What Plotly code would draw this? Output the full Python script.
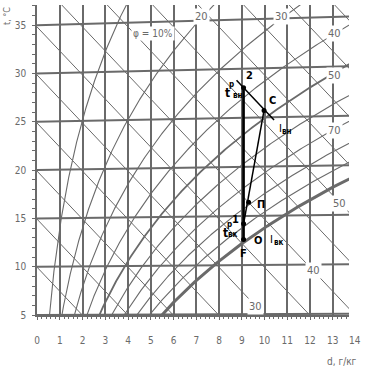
import numpy as np
import plotly.graph_objects as go

# ---------------- data ----------------
d_tick_vals = list(range(0, 14))          # moisture content ticks, g/kg
t_tick_vals = [5, 10, 15, 20, 25, 30, 35]  # temperature ticks, °C
isotherm_t = [5, 10, 15, 20, 25, 30, 35]
enthalpy_i = [5, 10, 15, 20, 25, 30, 35, 40, 45, 50, 55, 60, 65, 70, 75]
rh_phi = [10, 20, 30, 40, 50, 60, 70, 80, 90]
rh_labels = ["20", "30", "40", "50", "70"]
enth_labels = ["50", "40", "30"]

proc_names = ["2", "C", "П", "1", "F"]
proc_d = [9.08, 9.98, 9.30, 9.08, 9.08]
proc_t = [28.05, 25.7, 16.4, 14.2, 12.6]

# ---------------- layout constants ----------------
FIG_W, FIG_H = 367, 375
ML, MR, MT, MB = 37, 18, 5, 60
PW, PH = FIG_W - ML - MR, FIG_H - MT - MB
PX_D = 22.75      # px per g/kg
PX_T = 9.66       # px per °C
D_MAX = PW / PX_D
Y_MIN = 5
Y_MAX = Y_MIN + PH / PX_T
P_BAR = 99.3
GRAY = "#6a6a6a"
FONT = "Liberation Sans Narrow, DejaVu Sans Condensed, Arial, sans-serif"


def p_sat(t):
    return 0.61094 * np.exp(17.625 * t / (t + 243.04))


def d_of(t, phi):
    p = phi * p_sat(t)
    return 622.0 * p / (P_BAR - p)


def y_of(d, t):
    # oblique i-d chart ordinate: (i - 2.501 d) / 1.005
    return t + 0.00186 * t * d / 1.005


fig = go.Figure()

# isenthalps
xs, ys = [], []
for i in enthalpy_i:
    for d in (0, D_MAX + 0.5):
        xs.append(d)
        ys.append((i - 2.501 * d) / 1.005)
    xs.append(None); ys.append(None)
fig.add_trace(go.Scatter(x=xs, y=ys, mode="lines", line=dict(color=GRAY, width=1), hoverinfo="skip"))

# relative humidity curves
tt = np.linspace(-5, 48, 400)
for phi in rh_phi:
    dd = d_of(tt, phi / 100)
    m = dd < D_MAX + 1
    fig.add_trace(go.Scatter(x=dd[m], y=y_of(dd[m], tt[m]), mode="lines",
                             line=dict(color=GRAY, width=1.8 if phi == 50 else 1.1), hoverinfo="skip"))

# isotherms
xs, ys = [], []
for t in isotherm_t:
    for d in (0, D_MAX):
        xs.append(d); ys.append(y_of(d, t))
    xs.append(None); ys.append(None)
fig.add_trace(go.Scatter(x=xs, y=ys, mode="lines", line=dict(color=GRAY, width=2), hoverinfo="skip"))

# saturation curve
ts = np.linspace(-5, 30, 300)
ds = d_of(ts, 1.0)
fig.add_trace(go.Scatter(x=ds, y=y_of(ds, ts), mode="lines", line=dict(color=GRAY, width=3), hoverinfo="skip"))

# process
P = {n: (d, t) for n, d, t in zip(proc_names, proc_d, proc_t)}
PY = {n: y_of(d, t) for n, (d, t) in P.items()}
# 2 -> F
fig.add_trace(go.Scatter(x=[P["2"][0], P["F"][0]], y=[PY["2"], PY["F"]], mode="lines",
                         line=dict(color="black", width=2.6), hoverinfo="skip"))
# C -> 1
fig.add_trace(go.Scatter(x=[P["C"][0], P["1"][0]], y=[PY["C"], PY["1"]], mode="lines",
                         line=dict(color="black", width=1.5), hoverinfo="skip"))
# isenthalp through 2 and C
i2 = 1.005 * P["2"][1] + P["2"][0] * (2.501 + 0.00186 * P["2"][1])
seg_d = np.array([8.77, 10.42])
fig.add_trace(go.Scatter(x=seg_d, y=(i2 - 2.501 * seg_d) / 1.005, mode="lines",
                         line=dict(color="black", width=1.5), hoverinfo="skip"))
fig.add_trace(go.Scatter(x=[P[n][0] for n in proc_names], y=[PY[n] for n in proc_names], mode="markers",
                         marker=dict(color="black", size=5), hoverinfo="skip"))

ann = []


def add_px(text, x, y, size=10, color=GRAY, bg=None, angle=0):
    a = dict(x=(x - ML) / PW, y=(FIG_H - MB - y) / PH, xref="paper", yref="paper", text=text,
             showarrow=False, font=dict(family=FONT, size=size, color=color), textangle=angle,
             xanchor="center", yanchor="middle")
    if bg:
        a.update(bgcolor=bg, borderpad=1)
    ann.append(a)


def add_rel(text, name, xs_, ys_, size=11, bold=True):
    ann.append(dict(x=P[name][0], y=PY[name], xref="x", yref="y", text=f"<b>{text}</b>" if bold else text,
                    showarrow=False, xshift=xs_, yshift=ys_, xanchor="center", yanchor="middle",
                    font=dict(family=FONT, size=size, color="black")))


# gray labels on curves
add_px("φ = 10%", 153, 34, size=10, bg="white")
for txt, (x, y) in zip(rh_labels, [(201, 17), (281, 17), (334, 33), (334, 75), (334, 130)]):
    add_px(txt, x, y, size=11, bg="white")
for txt, (x, y) in zip(enth_labels, [(339, 204), (313, 270), (256, 306)]):
    add_px(txt, x, y, size=11, bg="white")
add_px("14", 354.5, 340.5, size=10)
add_px("d, г/кг", 342, 361, size=10)
add_px("t, °C", 7, 16, size=9, angle=-90)

# process labels
add_rel("2", "2", 6, 12)
add_rel("t", "2", -16, -5, size=12)
add_rel("р", "2", -12, 3, size=8)
add_rel("вн", "2", -6, -8, size=8)
add_rel("C", "C", 8, 10)
add_rel("I", "C", 16, -18, size=11, bold=False)
add_rel("вн", "C", 23, -21, size=8)
add_rel("П", "П", 12, -2)
add_rel("1", "1", -8, 4)
add_rel("t", "1", -18, -9, size=12)
add_rel("р", "1", -14, -1, size=8)
add_rel("вк", "1", -11, -11, size=8)
add_rel("O", "F", 14, -1)
add_rel("I", "F", 28, 0, size=11, bold=False)
add_rel("вк", "F", 35, -3, size=8)
add_rel("F", "F", 0, -14)

fig.update_layout(
    width=FIG_W, height=FIG_H, margin=dict(l=ML, r=MR, t=MT, b=MB),
    paper_bgcolor="white", plot_bgcolor="white", showlegend=False,
    annotations=ann,
    font=dict(family=FONT, size=10, color=GRAY),
)
fig.update_xaxes(range=[0, D_MAX], tickvals=d_tick_vals, showgrid=True, gridcolor=GRAY, gridwidth=1.5,
                 zeroline=False, showline=True, linecolor=GRAY, linewidth=2,
                 ticks="outside", ticklen=3, tickcolor=GRAY, ticklabelstandoff=12,
                 minor=dict(dtick=0.2, ticks="outside", ticklen=2, tickcolor=GRAY, showgrid=False),
                 tickfont=dict(family=FONT, size=10, color=GRAY))
fig.update_yaxes(range=[Y_MIN, Y_MAX], tickvals=t_tick_vals, showgrid=False, zeroline=False,
                 showline=True, linecolor=GRAY, linewidth=1.5,
                 ticks="outside", ticklen=3, tickcolor=GRAY, ticklabelstandoff=4,
                 minor=dict(dtick=1, ticks="outside", ticklen=3, tickcolor=GRAY, showgrid=False),
                 tickfont=dict(family=FONT, size=10, color=GRAY))

fig.write_html("out.html", config={"displayModeBar": False},
               post_script="document.body.style.margin='0';document.body.style.overflow='hidden';")
